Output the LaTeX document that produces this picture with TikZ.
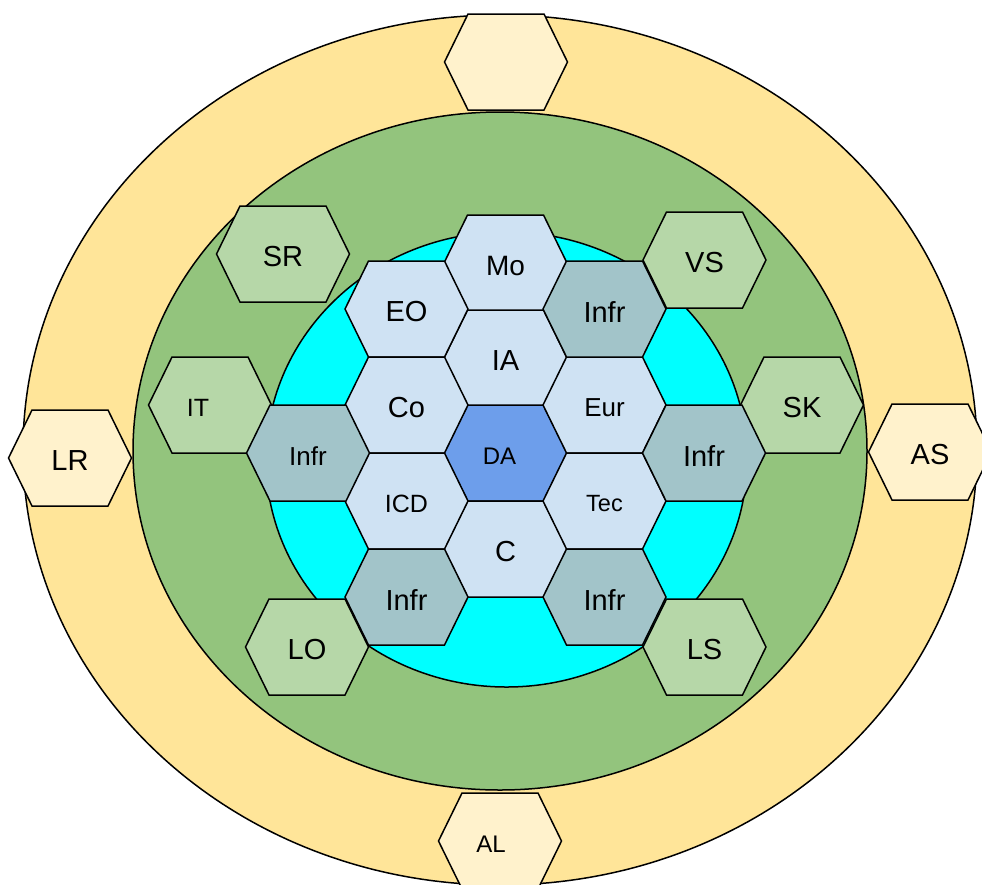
\documentclass[tikz,border=0pt]{standalone}
\usepackage{fontspec}
\setmainfont{Liberation Sans}
\usepackage{tikz}
\definecolor{outerring}{HTML}{FFE599}
\definecolor{middlering}{HTML}{93C47D}
\definecolor{innerring}{HTML}{00FFFF}
\definecolor{lightcream}{HTML}{FFF2CC}
\definecolor{lightleaf}{HTML}{B6D7A8}
\definecolor{paleblue}{HTML}{CFE2F3}
\definecolor{infrgrey}{HTML}{A2C4C9}
\definecolor{corblue}{HTML}{6D9EEB}
\tikzset{ringline/.style={draw=black, line width=1.5pt},
    hexline/.style={draw=black, line width=1.5pt, line join=miter},
    celltext/.style={font=\fontsize{29}{32}\selectfont, inner sep=0pt, yshift=-3pt}}
% name, x, y, fill, text (optional: half top edge)
\newcommand{\hexcell}[6][38]{%
    \filldraw[hexline, fill=#5] (#3-#1-23.5,#4) -- ++(23.5,-48) -- ++(2*#1,0)
        -- ++(23.5,48) -- ++(-23.5,48) -- ++(-2*#1,0) -- cycle;
    \node[celltext] (#2) at (#3,#4) {#6};}
\newcommand{\fs}[1]{\fontsize{#1}{#1}\selectfont}

\begin{document}
\begin{tikzpicture}[x=1pt, y=-1pt]
    \useasboundingbox (0,0) rectangle (982,884);
    \clip (0,0) rectangle (982,884);
    \fill[white] (0,0) rectangle (982,884);
    % rings
    \filldraw[ringline, fill=outerring] (500,450) ellipse [x radius=477pt, y radius=435pt];
    \filldraw[ringline, fill=middlering] (500,451) ellipse [x radius=367pt, y radius=339pt];
    \filldraw[ringline, fill=innerring] (506.5,459.5) ellipse [x radius=240.5pt, y radius=227.5pt];
    % outer ring
    \hexcell{topcell}{506}{62}{lightcream}{}
    \hexcell{lr}{70}{458}{lightcream}{LR}
    \hexcell{as}{930}{452}{lightcream}{AS}
    \hexcell{al}{500}{841}{lightcream}{{\fs{24}\kern-18pt AL}}
    % middle ring
    \hexcell[43]{sr}{283}{254}{lightleaf}{SR}
    \hexcell{it}{210}{405}{lightleaf}{{\fs{25}\kern-24pt IT}}
    \hexcell{vs}{704.5}{260}{lightleaf}{VS}
    \hexcell{sk}{802}{405}{lightleaf}{SK}
    \hexcell{lo}{307}{647}{lightleaf}{LO}
    \hexcell{ls}{704.5}{647}{lightleaf}{LS}
    % core
    \hexcell{mo}{505.5}{263}{paleblue}{{\fs{28}Mo}}
    \hexcell{ia}{505.5}{358}{paleblue}{IA}
    \hexcell{da}{505.5}{453}{corblue}{{\fs{24}\kern-12pt DA}}
    \hexcell{c}{505.5}{549}{paleblue}{C}
    \hexcell{eo}{406.5}{309}{paleblue}{EO}
    \hexcell{co}{406.5}{405}{paleblue}{Co}
    \hexcell{icd}{406.5}{501}{paleblue}{{\fs{25}ICD}}
    \hexcell{eur}{604.5}{405}{paleblue}{{\fs{26}Eur}}
    \hexcell{tec}{604.5}{501}{paleblue}{{\fs{23.5}Tec}}
    \hexcell{infrNE}{604.5}{309}{infrgrey}{Infr}
    \hexcell{infrW}{308}{453}{infrgrey}{{\fs{26}Infr}}
    \hexcell{infrE}{704}{453}{infrgrey}{Infr}
    \hexcell{infrSW}{406.5}{597}{infrgrey}{Infr}
    \hexcell{infrSE}{604.5}{597}{infrgrey}{Infr}
\end{tikzpicture}
\end{document}
